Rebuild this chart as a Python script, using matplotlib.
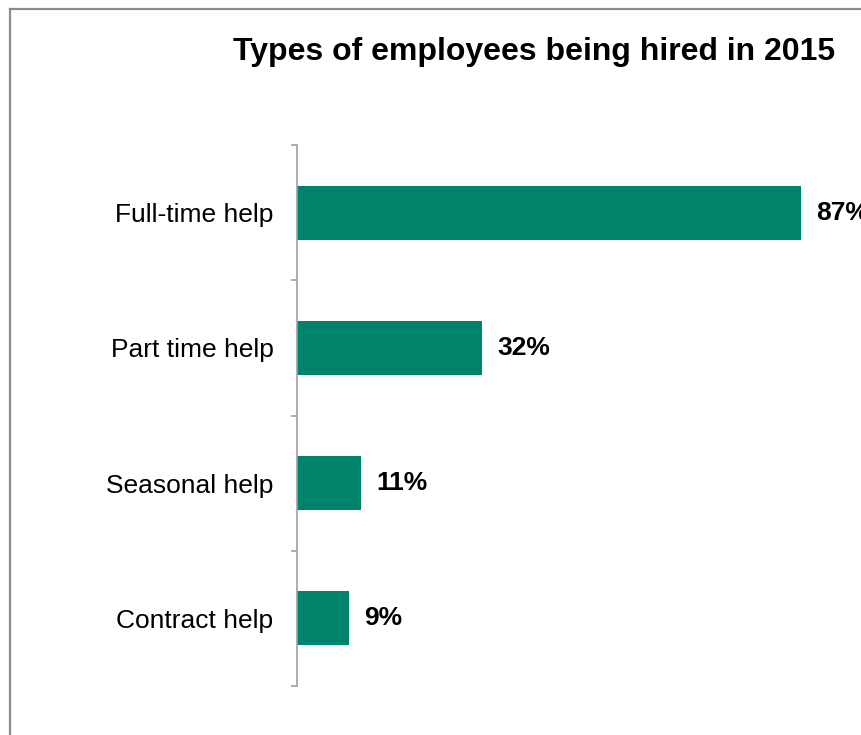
"""Horizontal bar chart: types of employees being hired in 2015."""
import matplotlib

matplotlib.use("Agg")
import matplotlib.pyplot as plt
from matplotlib.lines import Line2D
from matplotlib.ticker import FixedLocator

categories = ["Full-time help", "Part time help", "Seasonal help", "Contract help"]
shares = [87, 32, 11, 9]

BAR_COLOR = "#00836A"
AXIS_COLOR = "#A0A0A0"

plt.rcParams["font.family"] = ["Liberation Sans", "DejaVu Sans"]

W, H = 862, 735
fig = plt.figure(figsize=(W / 100, H / 100), dpi=100)
ax = fig.add_axes([297 / W, 1 - 686 / H, 1 - 297 / W, (686 - 145) / H])

pos = list(range(len(categories)))
ax.barh(pos, shares, height=0.4, color=BAR_COLOR)
ax.set_ylim(len(categories) - 0.5, -0.5)
ax.set_xlim(0, 97.5)

for y, v in zip(pos, shares):
    ax.annotate(f"{v}%", xy=(v, y), xytext=(11, 0), textcoords="offset points",
                ha="left", va="center", fontsize=19, fontweight="bold",
                annotation_clip=False)

ax.set_yticks(pos)
ax.set_yticklabels(categories, fontsize=19)
ax.tick_params(axis="y", which="major", length=0, pad=17)
ax.yaxis.set_minor_locator(FixedLocator([p - 0.5 for p in pos] + [len(pos) - 0.5]))
ax.tick_params(axis="y", which="minor", length=4.5, width=1.2, color=AXIS_COLOR)
ax.set_xticks([])

for side in ("top", "right", "bottom"):
    ax.spines[side].set_visible(False)
ax.spines["left"].set_color(AXIS_COLOR)
ax.spines["left"].set_linewidth(1.2)

fig.text(534 / W, 1 - 52 / H, "Types of employees being hired in 2015",
         ha="center", va="center", fontsize=23, fontweight="bold")

# outer frame, cut off at the right and bottom edges
frame = dict(color="#8C8C8C", linewidth=1.6, transform=fig.transFigure)
fig.add_artist(Line2D([10.5 / W, 10.5 / W], [0, 1 - 8.5 / H], **frame))
fig.add_artist(Line2D([10.5 / W, 1], [1 - 8.5 / H, 1 - 8.5 / H], **frame))

fig.savefig("out.png", dpi=100)
plt.close(fig)
